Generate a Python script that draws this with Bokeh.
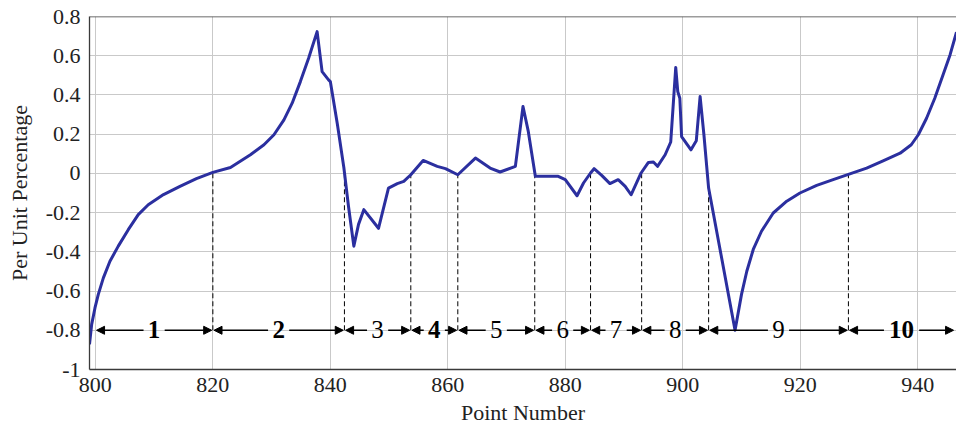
from bokeh.plotting import figure
from bokeh.models import (Range1d, FixedTicker, CustomJSTickFormatter, Span, Arrow,
                          NormalHead, ColumnDataSource)
from bokeh.core.properties import value
from bokeh.embed import file_html
from bokeh.resources import INLINE

# ---------------- data ----------------
point_number = [799.0, 799.37, 799.93, 800.5, 801.36, 802.48, 803.9, 805.6, 807.3, 809.0,
                811.6, 814.4, 817.2, 820.0, 823.0, 826.4, 828.7, 830.4, 832.1, 833.5,
                834.9, 836.3, 837.75, 838.6, 839.7, 840.0, 841.2, 842.3, 843.1, 844.0,
                844.8, 845.7, 848.2, 849.9, 851.4, 852.5, 853.7,
                855.8, 858.2, 859.6, 861.7, 864.7, 867.2, 868.9, 871.5, 872.8, 873.7,
                874.9, 878.8, 880.0, 882.0, 883.1, 884.3, 884.9, 886.2, 887.6, 889.0,
                890.2, 891.2, 892.9, 894.15, 895.0, 895.7, 897.0, 897.95, 898.3, 898.8,
                899.15, 899.5, 899.8, 901.4, 902.3, 902.95, 903.6, 904.4, 906.3, 908.9,
                910.0, 910.9, 912.0, 913.4, 915.4, 917.7, 919.95, 922.8, 925.6, 928.2,
                931.3, 934.1, 937.0, 938.9, 940.1, 941.5, 942.9, 944.3, 945.5, 946.6]
per_unit = [-0.872, -0.77, -0.686, -0.617, -0.533, -0.448, -0.371, -0.287, -0.21, -0.16,
            -0.108, -0.066, -0.027, 0.005, 0.03, 0.095, 0.146, 0.197, 0.273, 0.358,
            0.468, 0.587, 0.723, 0.519, 0.477, 0.468, 0.25, 0.03, -0.17, -0.371,
            -0.26, -0.185, -0.28, -0.075, -0.052, -0.041, -0.007,
            0.066, 0.036, 0.024, -0.007, 0.078, 0.027, 0.007, 0.036, 0.341, 0.214,
            -0.015, -0.015, -0.032, -0.114, -0.049, 0.002, 0.024, -0.01, -0.052, -0.032,
            -0.066, -0.109, 0.002, 0.056, 0.058, 0.036, 0.095, 0.16, 0.316, 0.54,
            0.417, 0.383, 0.188, 0.12, 0.166, 0.392, 0.197, -0.075, -0.38, -0.80,
            -0.617, -0.499, -0.388, -0.295, -0.202, -0.142, -0.10, -0.061, -0.032, -0.005,
            0.027, 0.064, 0.103, 0.146, 0.197, 0.281, 0.383, 0.502, 0.604, 0.72]

segment_bounds = [800.0, 820.0, 842.4, 853.7, 861.7, 874.8, 884.3, 893.0, 904.4, 928.2, 946.3]
segment_labels = ["1", "2", "3", "4", "5", "6", "7", "8", "9", "10"]
divider_x = [820.0, 842.4, 853.7, 861.7, 874.8, 884.3, 893.0, 904.4, 928.2]
divider_top = [0.005, 0.0, 0.0, 0.0, -0.015, 0.0, 0.0, -0.075, 0.0]
arrow_level = -0.8

x_ticks = [800, 820, 840, 860, 880, 900, 920, 940]
y_ticks = [-1, -0.8, -0.6, -0.4, -0.2, 0, 0.2, 0.4, 0.6, 0.8]
x_title = "Point Number"
y_title = "Per Unit Percentage"

# style (not data)
label_weights = ["bold", "bold", "normal", "bold", "normal", "normal", "normal", "normal", "normal", "bold"]

SERIF = "Liberation Serif"
CURVE = "#2b2f9f"
TXT = "#222222"

p = figure(width=956, height=432, output_backend="svg", toolbar_location=None,
           x_range=Range1d(799.0, 946.6), y_range=Range1d(-1.0, 0.8),
           min_border_left=89, min_border_right=0, min_border_top=16, min_border_bottom=63)
p.outline_line_color = None
p.background_fill_color = "white"
p.border_fill_color = "white"

# grid
p.xgrid.grid_line_color = "#c9c9c9"
p.ygrid.grid_line_color = "#c9c9c9"
p.xgrid.grid_line_width = 1
p.ygrid.grid_line_width = 1

# axes
p.xaxis.ticker = FixedTicker(ticks=x_ticks)
p.yaxis.ticker = FixedTicker(ticks=y_ticks)
p.yaxis.formatter = CustomJSTickFormatter(code="return tick.toFixed(1).replace(/\\.0$/, '').replace(/^-0$/, '0');")
for ax in (p.xaxis[0], p.yaxis[0]):
    ax.axis_line_color = "#3a3a3a"
    ax.axis_line_width = 1.3
    ax.major_tick_line_color = None
    ax.minor_tick_line_color = None
    ax.major_tick_out = 0
    ax.major_tick_in = 0
    ax.major_label_text_font = SERIF
    ax.major_label_text_font_size = "22px"
    ax.major_label_text_color = TXT
    ax.axis_label_text_font = SERIF
    ax.axis_label_text_font_size = "22px"
    ax.axis_label_text_font_style = "normal"
    ax.axis_label_text_color = TXT
p.xaxis.axis_label = x_title
p.yaxis.axis_label = y_title
p.xaxis.major_label_standoff = 8
p.xaxis.axis_label_standoff = 5
p.yaxis.major_label_standoff = 9
p.yaxis.axis_label_standoff = 11

# top border
p.add_layout(Span(location=0.8, dimension="width", line_color="#3a3a3a", line_width=1.3))

# dashed dividers
p.segment(x0=divider_x, y0=[arrow_level] * len(divider_x), x1=divider_x, y1=divider_top,
          line_color="black", line_width=1, line_dash="5 3")

# curve
p.line(point_number, per_unit, line_color=CURVE, line_width=3, line_join="round")

# segment arrows and labels
centers = [(segment_bounds[i] + segment_bounds[i + 1]) / 2 for i in range(len(segment_labels))]
xs0, xs1 = [], []
for i, lab in enumerate(segment_labels):
    gap = 0.6 + 1.2 * len(lab)
    xs0 += [centers[i] - gap, centers[i] + gap]
    xs1 += [segment_bounds[i] + 0.2, segment_bounds[i + 1] - 0.2]
arrow_src = ColumnDataSource(dict(x0=xs0, x1=xs1, y=[arrow_level] * len(xs0)))
p.add_layout(Arrow(source=arrow_src, x_start="x0", y_start="y", x_end="x1", y_end="y",
                   line_color="black", line_width=1.6,
                   end=NormalHead(size=8, fill_color="black", line_color="black", line_width=1)))

label_src = ColumnDataSource(dict(x=centers, y=[arrow_level] * len(centers), t=segment_labels, w=label_weights))
p.text(x="x", y="y", text="t", source=label_src, text_font=value(SERIF), text_font_size="25px",
       text_font_style="w", text_align="center", text_baseline="middle", text_color="black",
       y_offset=-1)

open("out.html", "w").write(file_html(p, INLINE))
